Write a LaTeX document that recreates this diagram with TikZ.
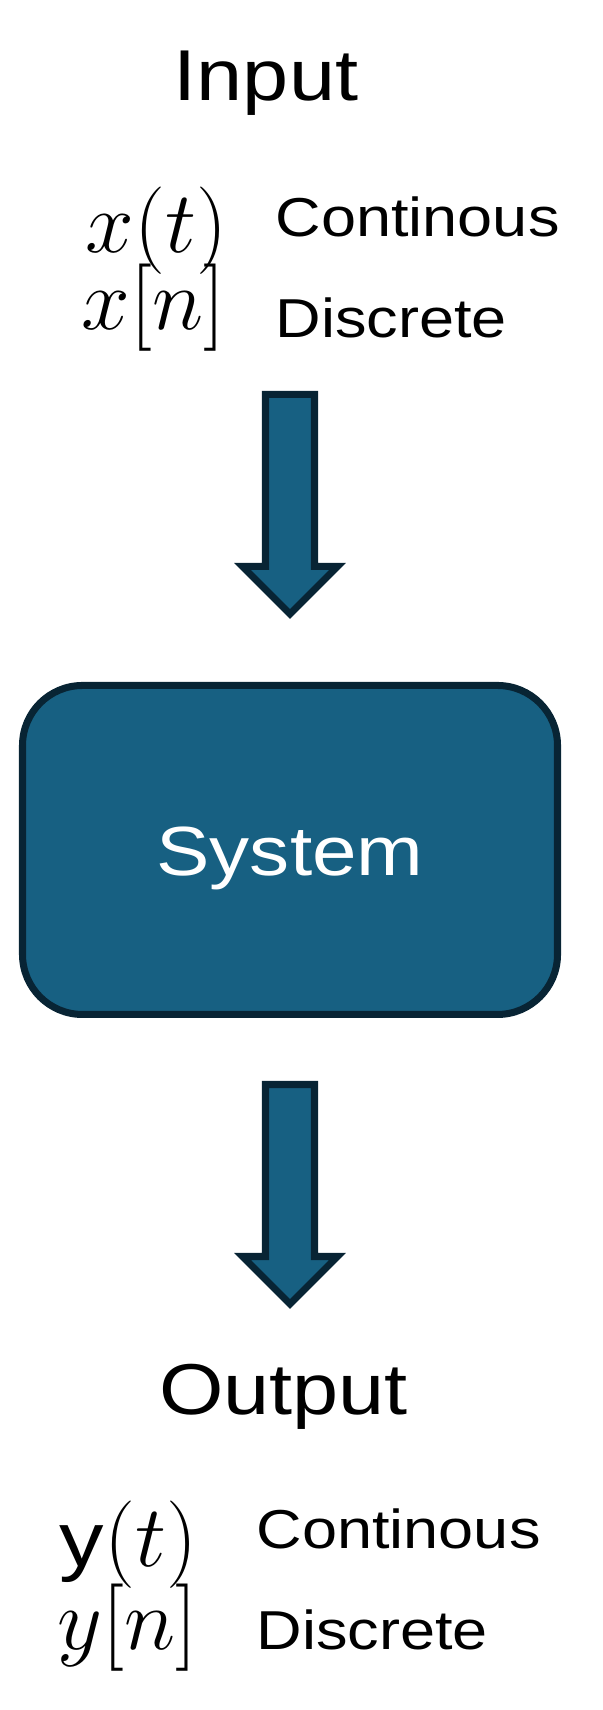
\documentclass[tikz,border=0pt]{standalone}
\usepackage{amsmath,amssymb}
\usepackage{fontspec}
\setmainfont{Liberation Sans}[FakeStretch=1.15]
\usepackage{tikz}
\usetikzlibrary{positioning,calc}
\usepackage{xcolor}
\definecolor{sysblue}{RGB}{23,96,130}
\definecolor{sysdark}{RGB}{8,36,52}

\begin{document}
\begin{tikzpicture}[
    title/.style={inner sep=0pt, anchor=base, font=\fontsize{20.5}{24}\selectfont},
    sig/.style={inner sep=0pt, anchor=base east, font=\fontsize{27.5}{30}\selectfont},
    kind/.style={inner sep=0pt, anchor=base west, font=\fontsize{15.6}{19}\selectfont},
    sysbox/.style={rectangle, rounded corners=0.6cm, draw=sysdark, line width=2pt,
                   fill=sysblue, minimum width=5.35cm, minimum height=3.29cm,
                   text=white, font=\fontsize{19.8}{23}\selectfont},
    blockarr/.pic={\draw[sysdark, fill=sysblue, line width=2pt]
        (-0.245,0) -- (0.245,0) -- (0.245,-1.72) -- (0.475,-1.72)
        -- (0,-2.195) -- (-0.475,-1.72) -- (-0.245,-1.72) -- cycle;}]

    \useasboundingbox (0,0) rectangle (6.02,17.10);

    % input side
    \node[title] (in) at (2.66,16.09) {Input};
    \node[sig] (xt) at (2.28,14.57) {$x(t)$};
    \node[sig] (xn) at (2.26,13.80) {$x[n]$};
    \node[kind] (ct1) at (2.75,14.73) {Continous};
    \node[kind] (dt1) at (2.75,13.72) {Discrete};

    \pic (arr1) at (2.90,13.155) {blockarr};

    % system
    \node[sysbox] (sys) at (2.90,8.60) {};
    \node[inner sep=0pt, anchor=base, text=white,
          font=\fontsize{19.8}{23}\selectfont] (systxt) at (2.90,8.34) {System};

    \pic (arr2) at (2.90,6.255) {blockarr};

    % output side
    \node[title] (out) at (2.835,2.95) {Output};
    \node[sig] (yt) at (1.98,1.43) {{\fontsize{22}{26}\selectfont y}$(t)$};
    \node[sig] (yn) at (1.98,0.60) {$y[n]$};
    \node[kind] (ct2) at (2.56,1.61) {Continous};
    \node[kind] (dt2) at (2.56,0.60) {Discrete};
\end{tikzpicture}
\end{document}
